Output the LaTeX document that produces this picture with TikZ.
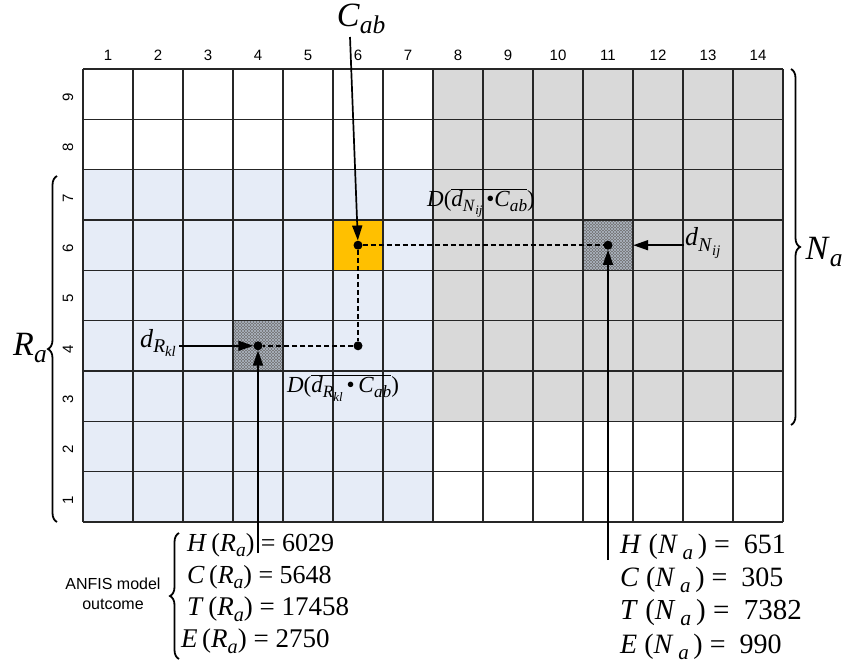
\documentclass[tikz,border=0pt]{standalone}
\usepackage{fontspec}
\setmainfont{Liberation Serif}
\newfontfamily\arialf{Liberation Sans}
\usetikzlibrary{arrows.meta,decorations.pathreplacing,patterns}
\definecolor{rablue}{HTML}{E6ECF7}
\definecolor{nagray}{HTML}{D9D9D9}
\definecolor{cabor}{HTML}{FFC000}
\definecolor{hatchbg}{HTML}{707070}
\definecolor{hatchln}{HTML}{AEB6C2}
\newcommand\lsub[1]{\raisebox{-0.45ex}{\scalebox{0.75}{#1}}}
\begin{document}
\begin{tikzpicture}[x=1pt,y=-1pt,
  gridline/.style={draw=black!85,line width=1.1pt},
  numlab/.style={font=\arialf\fontsize{15}{15}\selectfont,inner sep=1pt},
  dot/.style={circle,fill=black,inner sep=0pt,minimum size=9pt},
  arr/.style={line width=1.7pt,-{Triangle[length=15pt,width=10pt]}},
  dashline/.style={line width=1.8pt,dash pattern=on 5pt off 3pt},
  bracel/.style={decorate,decoration={brace,amplitude=9pt},line width=1.8pt},
  cellbox/.style={rectangle,minimum width=50pt,minimum height=50.33pt,inner sep=0pt},
  hatchcell/.style={cellbox,fill=hatchbg,
    postaction={pattern=north east lines,pattern color=hatchln},
    postaction={pattern=north west lines,pattern color=hatchln}},
  eqn/.style={anchor=west,inner sep=0pt}
]
\useasboundingbox (0,0) rectangle (842,667);
\fill[white] (0,0) rectangle (842,667);
% region fills
\fill[rablue] (83,170) rectangle (433,522);
\fill[nagray] (433,69) rectangle (783,421);
% special cells
\node[cellbox,fill=cabor] (cabcell) at (358,245.2) {};
\node[hatchcell] (cellR) at (258,345.8) {};
\node[hatchcell] (cellN) at (608,245.2) {};
% grid
\foreach \i in {0,...,14} \draw[gridline] ({83+50*\i},69) -- ({83+50*\i},522);
\foreach \j in {0,...,9} \draw[gridline] (83,{69+50.333*\j}) -- (783,{69+50.333*\j});
% column and row numbers
\foreach \c in {1,...,14} \node[numlab] (col\c) at ({58+50*\c},55) {\c};
\foreach \r in {1,...,9} \node[numlab,rotate=90] (row\r) at (68,{525-50.333*(\r-0.5)}) {\r};
% points
\node[dot] (pc) at (358,245.2) {};
\node[dot] (pm) at (358,345.8) {};
\node[dot] (pR) at (258,345.8) {};
\node[dot] (pN) at (608,245.2) {};
% dashed distances
\draw[dashline] (pc) -- (pN);
\draw[dashline] (pc) -- (pm);
\draw[dashline] (pm) -- (pR);
% labels
\node (cablab) at (361,19) {\fontsize{34}{34}\selectfont\textit{C}\lsub{\textit{ab}}};
\coordinate (cabtop) at (350,37);
\draw[arr] (cabtop) -- (pc);
\node (dRlab) at (158,343) {\fontsize{26}{26}\selectfont\textit{d}\lsub{\textit{R}\lsub{\textit{kl}}}};
\draw[arr] (dRlab.east |- pR) -- (pR);
\node[anchor=west,inner sep=1pt] (dNlab) at (684,243) {\fontsize{26}{26}\selectfont\textit{d}\lsub{\textit{N}\lsub{\textit{ij}}}};
\draw[arr] (dNlab.west |- pN) -- (cellN.east |- pN);
\node (DNlab) at (481,203) {\fontsize{23}{23}\selectfont\textit{D}($\overline{\hbox{\textit{d}\lsub{\textit{N}\lsub{\textit{ij}}}\,•\textit{C}\lsub{\textit{ab}}}}$)};
\node (DRlab) at (343,388) {\fontsize{23}{23}\selectfont\textit{D}($\overline{\hbox{\textit{d}\lsub{\textit{R}\lsub{\textit{kl}}}\,•\,\textit{C}\lsub{\textit{ab}}}}$)};
\coordinate (rbot) at (258,553);
\draw[arr] (rbot) -- (pR);
\coordinate (nbot) at (608,560);
\draw[arr] (nbot) -- (pN);
% braces
\draw[bracel] (57,522) -- (57,176);
\node (Ra) at (30,348) {\fontsize{34}{34}\selectfont\textit{R}\lsub{\textit{a}}};
\draw[bracel] (791,69) -- (791,425);
\node (Na) at (824,252) {\fontsize{34}{34}\selectfont\textit{N}\lsub{\textit{a}}};
% ANFIS outcome
\node[font=\arialf\fontsize{16}{20}\selectfont,align=center] (anfis) at (113,594) {ANFIS model\\outcome};
\draw[bracel] (179,659) -- (179,533);
\node[eqn] (hR) at (187,545) {\fontsize{26}{26}\selectfont\textit{H}\,(\textit{R}\lsub{\textit{a}}) = 6029};
\node[eqn] (cR) at (187,577) {\fontsize{26}{26}\selectfont\textit{C}\,(\textit{R}\lsub{\textit{a}}) = 5648};
\node[eqn] (tR) at (187,609) {\fontsize{27}{27}\selectfont\textit{T}\,(\textit{R}\lsub{\textit{a}}) = 17458};
\node[eqn] (eR) at (181,641) {\fontsize{27}{27}\selectfont\textit{E}\,(\textit{R}\lsub{\textit{a}}) = 2750};
\node[eqn] (hN) at (620,547) {\fontsize{28}{28}\selectfont\textit{H}\ (\textit{N}\,\lsub{\textit{a}}\,) = \ 651};
\node[eqn] (cN) at (620,580) {\fontsize{28}{28}\selectfont\textit{C}\ (\textit{N}\,\lsub{\textit{a}}\,) = \ 305};
\node[eqn] (tN) at (620,613) {\fontsize{29}{29}\selectfont\textit{T}\ (\textit{N}\,\lsub{\textit{a}}\,) = \ 7382};
\node[eqn] (eN) at (620,647) {\fontsize{28}{28}\selectfont\textit{E}\ (\textit{N}\,\lsub{\textit{a}}\,) = \ 990};
\end{tikzpicture}
\end{document}
